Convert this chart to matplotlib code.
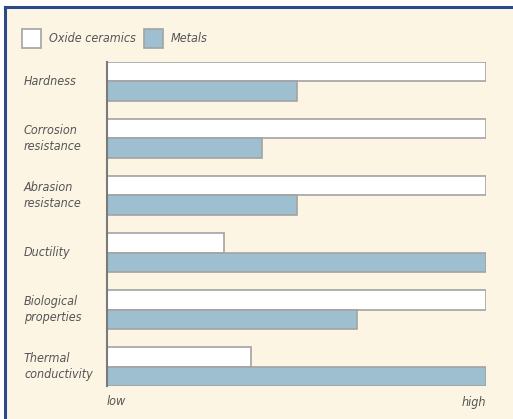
import matplotlib.pyplot as plt
from matplotlib.patches import Rectangle
from matplotlib.lines import Line2D

categories = ["Hardness", "Corrosion\nresistance", "Abrasion\nresistance",
              "Ductility", "Biological\nproperties", "Thermal\nconductivity"]
oxide_ceramics = [100, 100, 100, 31, 100, 38]
metals = [50, 41, 50, 100, 66, 100]
series_names = ["Oxide ceramics", "Metals"]

W, H = 513, 419
bg = "#fcf5e4"
blue_fill = "#9dbfcf"
edge = "#a3a3a3"
text_col = "#555555"
font = ["Liberation Sans Narrow", "DejaVu Sans"]
fs = 9
txt = dict(fontsize=fs, style="italic", color=text_col, family=font, fontstretch="condensed")

fig = plt.figure(figsize=(W / 100, H / 100), dpi=100)
fig.patch.set_facecolor("white")

# cream panel with blue frame on top and left
fig.add_artist(Rectangle((6 / W, 0), 1 - 6 / W, 1 - 8 / H, transform=fig.transFigure,
                         facecolor=bg, edgecolor="none", zorder=0))
fig.add_artist(Line2D([5 / W, 1], [1 - 7 / H, 1 - 7 / H], transform=fig.transFigure,
                      color="#2b4a8a", lw=2.2))
fig.add_artist(Line2D([5 / W, 5 / W], [0, 1 - 7 / H], transform=fig.transFigure,
                      color="#2b4a8a", lw=2.2))

ax = fig.add_axes([107 / W, 1 - 386 / H, (486 - 107) / W, (386 - 62) / H])
ax.set_facecolor("none")

h = 0.342
pos = list(range(len(categories)))
ax.barh([p - h / 2 for p in pos], oxide_ceramics, height=h, color="white",
        edgecolor=edge, linewidth=1.2)
ax.barh([p + h / 2 for p in pos], metals, height=h, color=blue_fill,
        edgecolor=edge, linewidth=1.2)

ax.set_xlim(0, 100)
ax.set_ylim(len(categories) - 1 + h, -h)
for s in ["top", "right", "bottom"]:
    ax.spines[s].set_visible(False)
ax.spines["left"].set_color("#7a7a7a")
ax.spines["left"].set_linewidth(1.5)
ax.set_xticks([])
ax.set_yticks([])

for p, name in zip(pos, categories):
    fig.text(24 / W, ax.transData.transform((0, p))[1] / H, name, ha="left", va="center",
             linespacing=1.3, **txt)

fig.text(107 / W, 1 - 401 / H, "low", ha="left", va="center", **txt)
fig.text(486 / W, 1 - 402 / H, "high", ha="right", va="center", **txt)

# legend
for x0, fc, label in [(22, "white", series_names[0]), (144, blue_fill, series_names[1])]:
    fig.add_artist(Rectangle((x0 / W, 1 - 48 / H), 19 / W, 19 / H, transform=fig.transFigure,
                             facecolor=fc, edgecolor=edge, lw=1.2))
    fig.text((x0 + 27) / W, 1 - 38 / H, label, ha="left", va="center", **txt)

fig.savefig("out.png", dpi=100, facecolor=fig.get_facecolor())
